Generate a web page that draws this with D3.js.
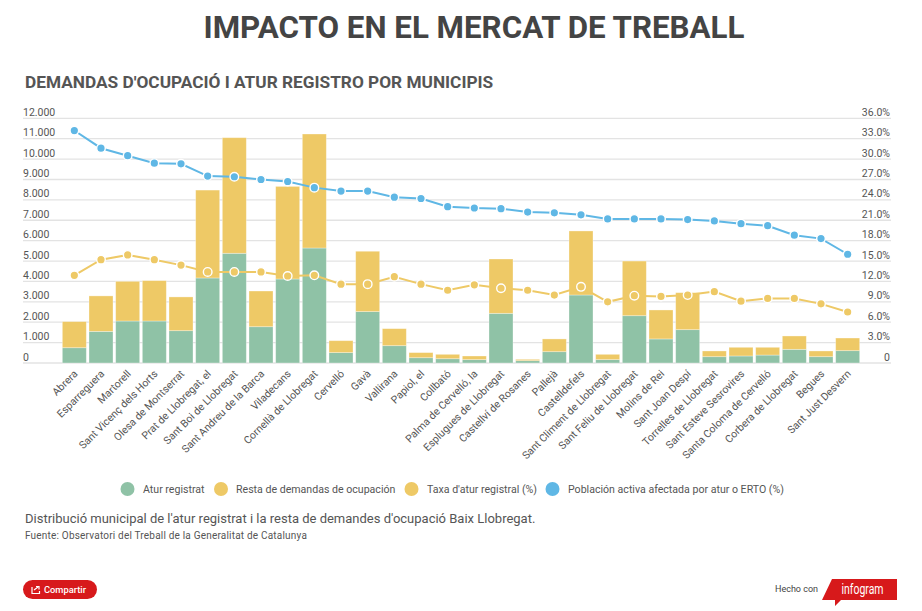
<!DOCTYPE html>
<html><head><meta charset="utf-8">
<script src="https://cdn.jsdelivr.net/npm/d3@7"></script>
<style>
html,body{margin:0;padding:0;background:#fff;}
svg{display:block;font-family:Roboto,sans-serif;}
</style></head><body><svg id="c" width="922" height="611"></svg>
<script>
const categories=["Abrera","Esparreguera","Martorell","Sant Vicenç dels Horts","Olesa de Montserrat","Prat de Llobregat, el","Sant Boi de Llobregat","Sant Andreu de la Barca","Viladecans","Cornellà de Llobregat","Cervelló","Gavà","Vallirana","Papiol, el","Collbató","Palma de Cervelló, la","Esplugues de Llobregat","Castellví de Rosanes","Pallejà","Castelldefels","Sant Climent de Llobregat","Sant Feliu de Llobregat","Molins de Rei","Sant Joan Despí","Torrelles de Llobregat","Sant Esteve Sesrovires","Santa Coloma de Cervelló","Corbera de Llobregat","Begues","Sant Just Desvern"];
const aturRegistrat=[750,1550,2060,2060,1585,4170,5380,1780,4120,5640,510,2520,850,260,210,165,2435,115,555,3335,165,2320,1180,1635,310,345,390,670,310,605];
const restaDemandes=[1280,1740,1945,1980,1655,4310,5670,1750,4540,5590,585,2960,835,250,215,178,2665,65,625,3140,260,2680,1420,1815,280,425,380,655,280,620];
const taxaAtur=[12.9,15.2,15.9,15.2,14.4,13.4,13.4,13.4,12.8,12.9,11.6,11.6,12.7,11.6,10.7,11.5,11.0,10.7,10.0,11.2,9.0,9.9,9.8,10.0,10.5,9.1,9.5,9.5,8.7,7.5];
const poblacioAfectada=[34.2,31.6,30.5,29.4,29.3,27.5,27.4,27.0,26.7,25.8,25.3,25.3,24.4,24.2,23.0,22.8,22.7,22.2,22.1,21.8,21.2,21.2,21.2,21.1,20.9,20.5,20.2,18.8,18.3,16.0];
const leftTicks=[0,1000,2000,3000,4000,5000,6000,7000,8000,9000,10000,11000,12000];
const rightTicks=[0,3,6,9,12,15,18,21,24,27,30,33,36];
const legendItems=["Atur registrat","Resta de demandas de ocupación","Taxa d'atur registral (%)","Población activa afectada por atur o ERTO (%)"];
const title="IMPACTO EN EL MERCAT DE TREBALL";
const subtitle="DEMANDAS D'OCUPACIÓ I ATUR REGISTRO POR MUNICIPIS";
const note="Distribució municipal de l'atur registrat i la resta de demandes d'ocupació Baix Llobregat.";
const source="Fuente: Observatori del Treball de la Generalitat de Catalunya";

const GREEN="#8fc2a6",YEL="#eec966",BLUE="#5fb7e5",TXT="#555";
const svg=d3.select("#c");
const x=d3.scaleBand().domain(categories).range([61,861]).paddingInner(0.1).paddingOuter(0.05);
const y=d3.scaleLinear().domain([0,12000]).range([363,118.3]);
const yR=d3.scaleLinear().domain([0,36]).range([363,118.3]);
const fmt=v=>String(v).replace(/\B(?=(\d{3})+$)/g,".");

svg.append("text").attr("x",474).attr("y",38).attr("text-anchor","middle").attr("font-size",31.3).attr("font-weight",700).attr("fill","#444").text(title);
svg.append("text").attr("x",25).attr("y",88).attr("font-size",17.25).attr("font-weight",700).attr("fill","#555").text(subtitle);

const grid=svg.append("g");
grid.selectAll("line").data(leftTicks).join("line").attr("x1",23).attr("x2",891)
 .attr("y1",d=>y(d)).attr("y2",d=>y(d)).attr("stroke","#e3e3e3").attr("stroke-width",1.3);
svg.append("g").selectAll("text").data(leftTicks).join("text").attr("x",23).attr("y",d=>y(d)-2.5)
 .attr("font-size",10.5).attr("fill",TXT).text(fmt);
svg.append("g").selectAll("text").data(rightTicks).join("text").attr("x",890).attr("y",d=>yR(d)-2.5)
 .attr("text-anchor","end").attr("font-size",10.5).attr("fill",TXT).text(d=>d===0?"0":d.toFixed(1)+"%");

const rows=categories.map((c,i)=>({c,a:aturRegistrat[i],r:restaDemandes[i]}));
const stack=d3.stack().keys(["a","r"])(rows);
const colors=[GREEN,YEL];
svg.append("g").selectAll("g").data(stack).join("g").attr("fill",(d,i)=>colors[i])
 .selectAll("rect").data(d=>d).join("rect")
 .attr("x",d=>x(d.data.c)).attr("width",x.bandwidth())
 .attr("y",d=>y(d[1])).attr("height",d=>y(d[0])-y(d[1]))
 .attr("stroke","#fff").attr("stroke-opacity",.4).attr("stroke-width",.8);

const cx=c=>x(c)+x.bandwidth()/2;
function series(vals,col){
 const g=svg.append("g");
 g.append("path").attr("d",d3.line().x((d,i)=>cx(categories[i])).y(d=>yR(d))(vals))
  .attr("fill","none").attr("stroke",col).attr("stroke-width",2);
 g.selectAll("circle").data(vals).join("circle").attr("cx",(d,i)=>cx(categories[i])).attr("cy",d=>yR(d))
  .attr("r",4.3).attr("fill",col).attr("stroke","#fff").attr("stroke-width",1.4);
}
series(taxaAtur,YEL);
series(poblacioAfectada,BLUE);

const xl=svg.append("g").attr("font-size",10.5).attr("fill",TXT);
xl.selectAll("text").data(categories).join("text")
 .attr("text-anchor","end")
 .attr("transform",d=>`translate(${cx(d)+4},${374.5}) rotate(-45)`)
 .text(d=>d);

const legendX=[127.5,221,411.5,552.5],legendC=[GREEN,YEL,YEL,BLUE],legendT=[143,236,427,568];
const lg=svg.append("g");
lg.selectAll("circle").data(legendItems).join("circle").attr("cx",(d,i)=>legendX[i]).attr("cy",489).attr("r",7).attr("fill",(d,i)=>legendC[i]);
lg.selectAll("text").data(legendItems).join("text").attr("x",(d,i)=>legendT[i]).attr("y",493).attr("font-size",10.6).attr("fill",TXT).text(d=>d);

svg.append("text").attr("x",25).attr("y",523).attr("font-size",13).attr("font-weight",400).attr("fill","#555").text(note);
svg.append("text").attr("x",25).attr("y",539).attr("font-size",10).attr("letter-spacing",".2").attr("fill","#555").text(source);

const b=svg.append("g");
b.append("rect").attr("x",23).attr("y",580).attr("width",74).attr("height",19).attr("rx",9.5).attr("fill","#d7191b");
b.append("path").attr("d","M32 587v6.5h7.5v-2.5M34 590l4-3M36 586.500h3v3").attr("fill","none").attr("stroke","#fff").attr("stroke-width",1.2);
b.append("text").attr("x",44).attr("y",593).attr("font-size",9.3).attr("font-weight",500).attr("fill","#fff").text("Compartir");
b.append("text").attr("x",775).attr("y",592).attr("font-size",9).attr("fill","#444").text("Hecho con");
b.append("path").attr("d","M832 579H897V600H841L835 606V600H822Z").attr("fill","#d7191b");
b.append("text").attr("x",841.5).attr("y",594).attr("font-size",14).attr("fill","#fff").attr("textLength",42).attr("lengthAdjust","spacingAndGlyphs").text("infogram");
</script></body></html>
